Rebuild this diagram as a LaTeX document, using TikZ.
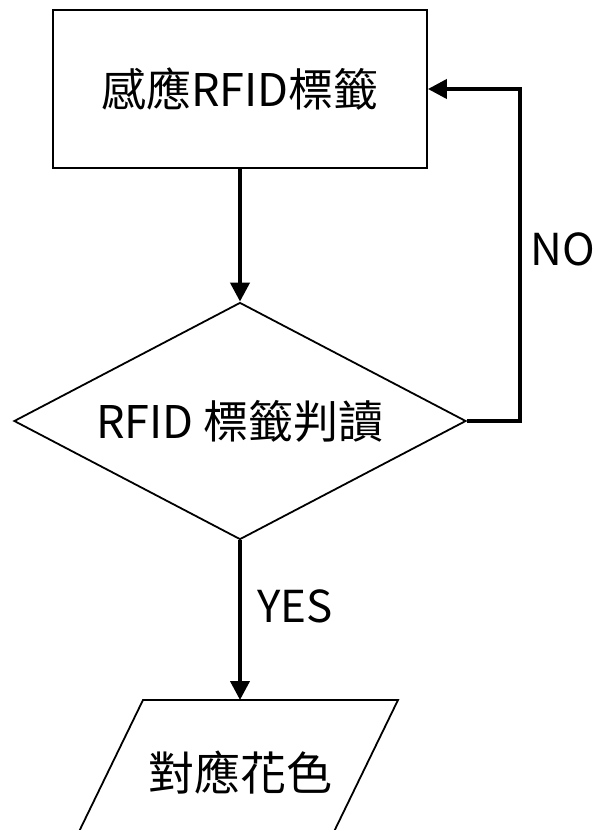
\documentclass[tikz,border=0pt]{standalone}
\usepackage{fontspec}
\setmainfont{Noto Sans CJK TC}
\usetikzlibrary{shapes.geometric,arrows.meta}
\begin{document}
\begin{tikzpicture}[x=1pt,y=1pt,
  shapeline/.style={draw=black,line width=1.8pt},
  conn/.style={draw=black,line width=4pt,-{Triangle[length=19pt,width=19pt]}},
  lbl/.style={font=\fontsize{44}{48}\selectfont,inner sep=0pt}]
\useasboundingbox (0,0) rectangle (603,-830);
\clip (0,0) rectangle (603,-830);
\node[shapeline,rectangle,minimum width=374pt,minimum height=158pt,inner sep=0pt,font=\fontsize{45}{50}\selectfont] (b) at (240,-89) {感應RFID標籤};
\node[shapeline,diamond,minimum width=452pt,minimum height=237pt,inner sep=0pt,aspect=1.9,font=\fontsize{45}{50}\selectfont] (d) at (240,-421) {RFID 標籤判讀};
\draw[shapeline] (143,-700) -- (398,-700) -- (327,-846) -- (72,-846) -- cycle;
\node[lbl,font=\fontsize{46}{50}\selectfont] (o) at (240,-773) {對應花色};
\coordinate (ot) at (240,-700);
\coordinate (corner) at (520,-421);
\draw[conn] (b.south) -- (d.north);
\draw[conn] (d.south) -- (ot);
\draw[conn] (d.east) -- (corner) |- (b.east);
\node[lbl] (no) at (563,-249) {NO};
\node[lbl] (yes) at (295,-606) {YES};
\end{tikzpicture}
\end{document}
